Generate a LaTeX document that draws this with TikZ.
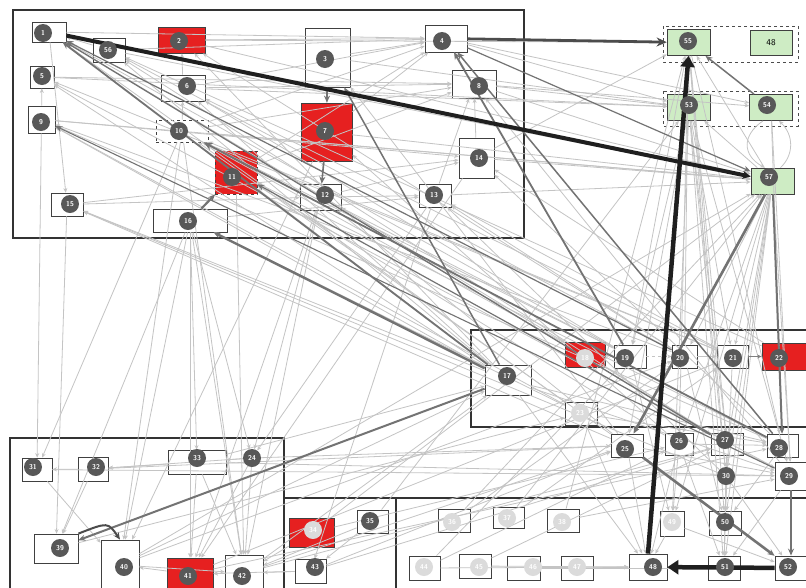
\documentclass[tikz,border=0pt]{standalone}
\usepackage{tikz}
\usetikzlibrary{arrows.meta, positioning}
\definecolor{boxred}{RGB}{230,32,32}
\definecolor{boxgreen}{RGB}{206,236,196}
\definecolor{numgrey}{RGB}{88,88,88}
\definecolor{edgegrey}{RGB}{196,196,196}

\begin{document}
\begin{tikzpicture}[x=1pt, y=-1pt,
  box/.style={draw=black!75, line width=0.8pt, inner sep=0pt},
  redbox/.style={box, fill=boxred},
  greenbox/.style={box, fill=boxgreen},
  num/.style={circle, fill=numgrey, text=white, minimum size=18pt, inner sep=0pt, font=\fontsize{7}{7}\selectfont\sffamily\bfseries},
  faint/.style={num, fill=gray!28},
  ghost/.style={circle, minimum size=18pt, inner sep=0pt},
  group/.style={draw=black!80, line width=1.2pt},
  lite/.style={-{Stealth[length=4.5pt,width=4pt]}, draw=edgegrey, line width=0.8pt},
  mid/.style={-{Stealth[length=7pt,width=6pt]}, draw=black!55, line width=1.6pt},
  heavy/.style={draw=black!88, line width=4.5pt}]
  \useasboundingbox (0,0) rectangle (806,587);
  \fill[white] (0,0) rectangle (806,587);

  % module frames
  \draw[group] (13,10) rectangle (524,238);
  \draw[group] (471,330) rectangle (812,427);
  \draw[group] (10,438) rectangle (284,592);
  \draw[group] (284,498) rectangle (396,592);
  \draw[group] (396,498) rectangle (812,592);
  \draw[dashed, black!70, line width=0.8pt] (663,26) rectangle (798,62);
  \draw[dashed, black!70, line width=0.8pt] (663,91) rectangle (798,126);

  % plain boxes
  \foreach \n/\x/\y/\w/\h in {1/49/32/34/20, 56/109/50/32/24, 5/42/77/24/22, 6/183/88/44/26,
      9/41.5/119.5/27/27, 15/67/204.5/32/23, 16/190/220.5/74/23, 3/327.5/57.5/45/59,
      12/320.5/197/41/26, 4/446/38.5/42/27, 8/474/84/44/28, 14/476.5/158/35/40,
      13/435/195.5/32/23, 17/508/380/46/30, 19/630/356.5/32/23, 20/684.5/356.5/25/23,
      21/732.5/356.5/31/23, 23/581/413.5/32/23, 25/627/445.5/32/23, 26/679/444/28/22,
      27/727/444/32/22, 28/782.5/445.5/31/23, 29/791/476/32/28, 31/37/469.5/30/23,
      32/93/469/30/24, 33/197/462/58/24, 39/56/548.5/44/29, 40/120/565/38/50,
      42/244/573/38/36, 35/372.5/521.5/31/23, 43/310.5/571/31/24, 36/454/520.5/32/23,
      37/508.5/517.5/31/21, 38/563/520.5/32/23, 44/424.5/568/31/24, 45/475/566/32/24,
      46/523.5/568/33/24, 47/577/568/32/24, 48/648/567/38/26, 49/672/523.5/24/25,
      50/725/523/32/24, 51/724/568/32/24, 52/791/568/32/24}
    \node[box, minimum width=\w pt, minimum height=\h pt] (b\n) at (\x,\y) {};
  \node[box, dashed, minimum width=52pt, minimum height=22pt] (b10) at (182,131) {};
  % red boxes
  \foreach \n/\x/\y/\w/\h in {2/181.5/40/47/26, 7/326.5/132/51/58, 18/585/354.5/40/25,
      22/785/356.5/46/27, 41/190/574/46/32, 34/311.5/532.5/45/29}
    \node[redbox, minimum width=\w pt, minimum height=\h pt] (b\n) at (\x,\y) {};
  \node[redbox, dashed, minimum width=42pt, minimum height=43pt] (b11) at (236,172.5) {};
  % green boxes
  \foreach \n/\x/\y in {55/688.5/42.5, 53/689/107.5, 54/771/107.5, 57/772.5/181}
    \node[greenbox, minimum width=43pt, minimum height=26pt] (b\n) at (\x,\y) {};
  \node[greenbox, minimum width=42pt, minimum height=25pt, font=\small\sffamily] (g48) at (771,42.5) {48};
  \node[ghost] (b30) at (726,476) {};
  \node[ghost] (b24) at (252,458) {};

  % light dependencies
  \foreach \a/\b in {2/4, 1/4, 56/4, 6/8, 10/8, 9/14, 5/8, 2/55, 6/53, 10/57, 9/57, 15/14,
      16/13, 12/14, 12/13, 15/12, 11/8, 11/4, 7/4, 6/4, 10/4, 3/4, 13/8, 14/8, 8/4,
      4/53, 8/57, 8/53, 14/57, 13/57, 8/54, 4/54, 14/55, 2/57, 56/57, 5/53, 7/57, 3/53,
      1/15, 6/2, 10/6, 9/5, 56/1, 7/3, 12/7,
      17/56, 17/5, 17/9, 17/11, 17/15, 17/2, 17/6, 19/1, 19/10, 20/9, 20/56, 21/5,
      21/10, 23/9, 23/1, 25/10, 26/11, 28/9, 29/5, 30/15, 22/56, 25/15, 23/16, 19/6,
      20/2, 21/6, 27/56, 28/11, 18/1, 18/10, 25/12, 26/7, 27/12, 20/13, 22/14, 21/13,
      25/3, 19/12, 29/8, 28/14, 30/13,
      55/20, 55/26, 55/27, 55/30, 55/50, 53/21, 53/27, 53/30, 53/29, 53/49, 53/51,
      54/29, 54/28, 57/27, 57/30, 57/50, 57/51, 57/49, 57/26, 57/20, 57/21, 55/28,
      53/25, 55/19, 53/19, 57/29, 20/50, 21/50, 26/51, 27/51, 30/51, 27/50, 28/50,
      26/49, 19/49, 17/48, 23/48, 25/48, 26/48, 30/52, 28/29, 20/21, 27/29, 26/28,
      25/29, 17/29, 17/28, 18/27, 23/28, 53/55, 57/55, 57/53, 18/19,
      32/31, 33/32, 24/32, 24/33, 32/39, 31/40, 41/40, 42/41, 43/42, 33/41, 33/42,
      24/42, 24/41, 40/42, 16/39, 10/40, 16/40, 15/39, 9/31, 10/31, 16/41, 11/42,
      10/42, 16/24, 12/41, 16/33, 16/42, 12/42, 13/24, 12/24, 14/41, 13/43, 7/40,
      40/17, 40/20, 40/57, 41/21, 42/17, 42/25, 43/25, 34/26, 35/53, 34/57, 43/27,
      42/27, 41/28, 33/29, 32/25, 31/29, 33/17, 24/25, 39/23, 36/20, 37/21, 38/29,
      44/19, 45/48, 47/48, 46/52, 36/57, 37/57, 38/55, 44/26, 45/27, 35/42, 34/42,
      43/41, 35/43, 44/48, 49/48, 49/52, 50/51, 30/50, 29/51}
    \draw[lite] (b\a) -- (b\b);
  \draw[lite] ([xshift=-8pt]b54.south) .. controls (742,135) and (742,155) .. ([xshift=-8pt]b57.north);
  \draw[lite] ([xshift=8pt]b57.north) .. controls (794,155) and (794,135) .. ([xshift=8pt]b54.south);
  \draw[lite, dashed] (b19) -- (b20);
  \draw[lite, draw=gray] (b21) -- (b22);

  % stronger dependencies
  \draw[mid, line width=1.3pt] (b27) -- (b1);
  \draw[mid, line width=1.2pt] (b20) -- (b1);
  \draw[mid, line width=1.8pt] (b17) -- (b1);
  \draw[mid, line width=1.8pt, -{Stealth[length=9pt,width=8pt]}] (b28) -- (b10);
  \draw[mid, line width=1.1pt] (b29) -- (b9);
  \draw[mid, line width=1.2pt] (b27) -- (b11);
  \draw[mid, line width=1.2pt] (b4) -- (b57);
  \draw[mid] (b3) -- (b7);
  \draw[mid] (b7) -- (b12);
  \draw[mid, line width=2.2pt] (b16) -- (b11);
  \draw[mid, line width=2.4pt] (b17) -- (b16);
  \draw[mid, line width=2pt] (b17) -- (b39);
  \draw[mid, line width=2pt, draw=black!70] (b39.north east) .. controls (108,522) .. (b40.north);
  \draw[mid, line width=1.5pt] (b17) -- (b3);
  \draw[mid, line width=1.8pt] (b19) -- (b4);
  \draw[mid, line width=1.5pt] (b28) -- (b4);
  \draw[mid, line width=1.5pt] (b54) -- (b55);
  \draw[mid, line width=2.6pt] (b57) -- (b25);
  \draw[mid, line width=2pt] (b57) -- (b28);
  \draw[mid, line width=2.6pt] (b25) -- (b52);
  \draw[mid, line width=2pt] (b29) -- (b52);
  \draw[mid, line width=2.8pt, draw=black!70, -{Stealth[length=10pt,width=9pt]}] (b4) -- (b55);
  \draw[heavy, line width=4pt, -{Stealth[length=8pt,width=8pt]}] (b1) -- (b57);
  \draw[heavy, -{Triangle[length=11pt,width=14pt]}] (b48.north) -- (b55.south);
  \draw[heavy, -{Triangle[length=11pt,width=14pt]}] (b52) -- (b48);

  % numbered markers
  \foreach \n/\x/\y in {1/43/33, 56/108/50, 2/179/41, 5/42/76, 6/187/86, 9/41/122,
      10/179/131, 11/232/177, 15/70/204, 16/188/221, 3/325/59, 7/325/131, 12/325/195,
      4/442/41, 8/479/86, 14/479/158, 13/434/195, 55/688/41, 53/689/105, 54/767/105,
      57/769/177, 17/507/376, 19/625/358, 20/680/358, 21/733/358, 22/779/358,
      25/625/449, 26/679/441, 27/725/440, 28/779/448, 29/789/476, 30/726/476,
      24/252/458, 31/33/467, 32/96/467, 33/197/458, 39/60/548, 40/124/567, 41/188/576,
      42/242/576, 35/370/521, 43/315/567, 48/653/567, 50/725/522, 51/725/567, 52/788/567}
    \node[num] (n\n) at (\x,\y) {\n};
  \foreach \n/\x/\y in {18/585/358, 23/580/413, 34/313/530, 36/452/522, 37/507/518,
      38/562/522, 44/424/567, 45/479/567, 46/533/567, 47/577/567, 49/672/522}
    \node[faint] (n\n) at (\x,\y) {\n};
\end{tikzpicture}
\end{document}
